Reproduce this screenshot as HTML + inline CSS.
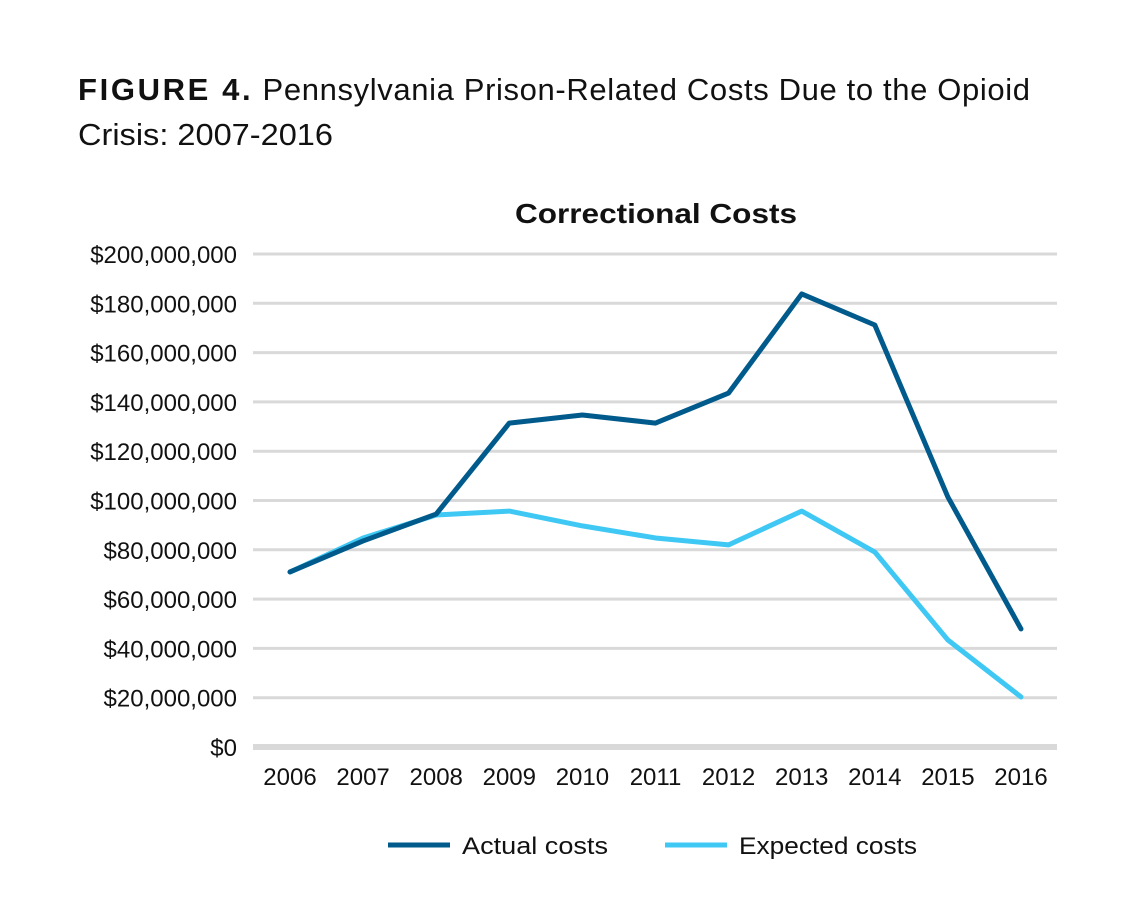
<!DOCTYPE html>
<html><head><meta charset="utf-8"><style>
body{margin:0;background:#fff;width:1131px;height:905px;overflow:hidden;font-family:"Liberation Sans",sans-serif;}
</style></head><body>
<svg width="1131" height="905">
<text x="78" y="100" font-size="31" fill="#111" textLength="952" lengthAdjust="spacing"><tspan font-weight="bold" letter-spacing="2">FIGURE 4.</tspan> Pennsylvania Prison-Related Costs Due to the Opioid</text>
<text x="78" y="145" font-size="31" fill="#111" textLength="255" lengthAdjust="spacingAndGlyphs">Crisis: 2007-2016</text>
<text x="515" y="223" font-size="28" font-weight="bold" fill="#111" textLength="282" lengthAdjust="spacingAndGlyphs">Correctional Costs</text>
<g id="grid"></g><g id="xl"></g><g id="lines"></g>
<g>
<line x1="388" y1="845" x2="450" y2="845" stroke="#005b8c" stroke-width="5"/>
<text x="462" y="854" font-size="24" fill="#111" textLength="146" lengthAdjust="spacingAndGlyphs">Actual costs</text>
<line x1="665" y1="845" x2="727" y2="845" stroke="#3fc8f4" stroke-width="5"/>
<text x="739" y="854" font-size="24" fill="#111" textLength="178" lengthAdjust="spacingAndGlyphs">Expected costs</text>
</g>
</svg>
<script>
const years=[2006,2007,2008,2009,2010,2011,2012,2013,2014,2015,2016];
const actual=[71,83.6,94.5,131.4,134.7,131.4,143.6,183.8,171.2,101.4,47.9];
const expected=[71,84.8,94.1,95.7,89.7,84.8,82,95.7,79.1,43.4,20.3];
const yTicks=[0,20,40,60,80,100,120,140,160,180,200];
const NS="http://www.w3.org/2000/svg";
const y=v=>747-v*2.465;
const x=i=>290+i*73.1;
const grid=document.getElementById('grid');
yTicks.forEach(t=>{
 const l=document.createElementNS(NS,'line');
 l.setAttribute('x1',253);l.setAttribute('x2',1057);l.setAttribute('y1',y(t));l.setAttribute('y2',y(t));
 l.setAttribute('stroke','#d9d9d9');l.setAttribute('stroke-width',t===0?6:3);
 
 
 grid.appendChild(l);
 const tx=document.createElementNS(NS,'text');
 tx.setAttribute('x',237);tx.setAttribute('y',y(t)+9);tx.setAttribute('text-anchor','end');
 tx.setAttribute('font-size','24');tx.setAttribute('fill','#111');
 tx.textContent='$'+(t===0?'0':(t*1000000).toLocaleString('en-US'));
 
 
 grid.appendChild(tx);
});
const xl=document.getElementById('xl');
years.forEach((yr,i)=>{
 const tx=document.createElementNS(NS,'text');
 tx.setAttribute('x',x(i));tx.setAttribute('y',785);tx.setAttribute('text-anchor','middle');
 tx.setAttribute('font-size','24');tx.setAttribute('fill','#111');tx.textContent=yr;
 
 
 xl.appendChild(tx);
});
const lines=document.getElementById('lines');
[[expected,'#3fc8f4','expected-costs-line'],[actual,'#005b8c','actual-costs-line']].forEach(([d,c,n])=>{
 const p=document.createElementNS(NS,'polyline');
 p.setAttribute('points',d.map((v,i)=>x(i)+','+y(v)).join(' '));
 p.setAttribute('fill','none');p.setAttribute('stroke',c);p.setAttribute('stroke-width',5);
 p.setAttribute('stroke-linejoin','round');p.setAttribute('stroke-linecap','round');
 
 
 lines.appendChild(p);
});
</script>
</body></html>
